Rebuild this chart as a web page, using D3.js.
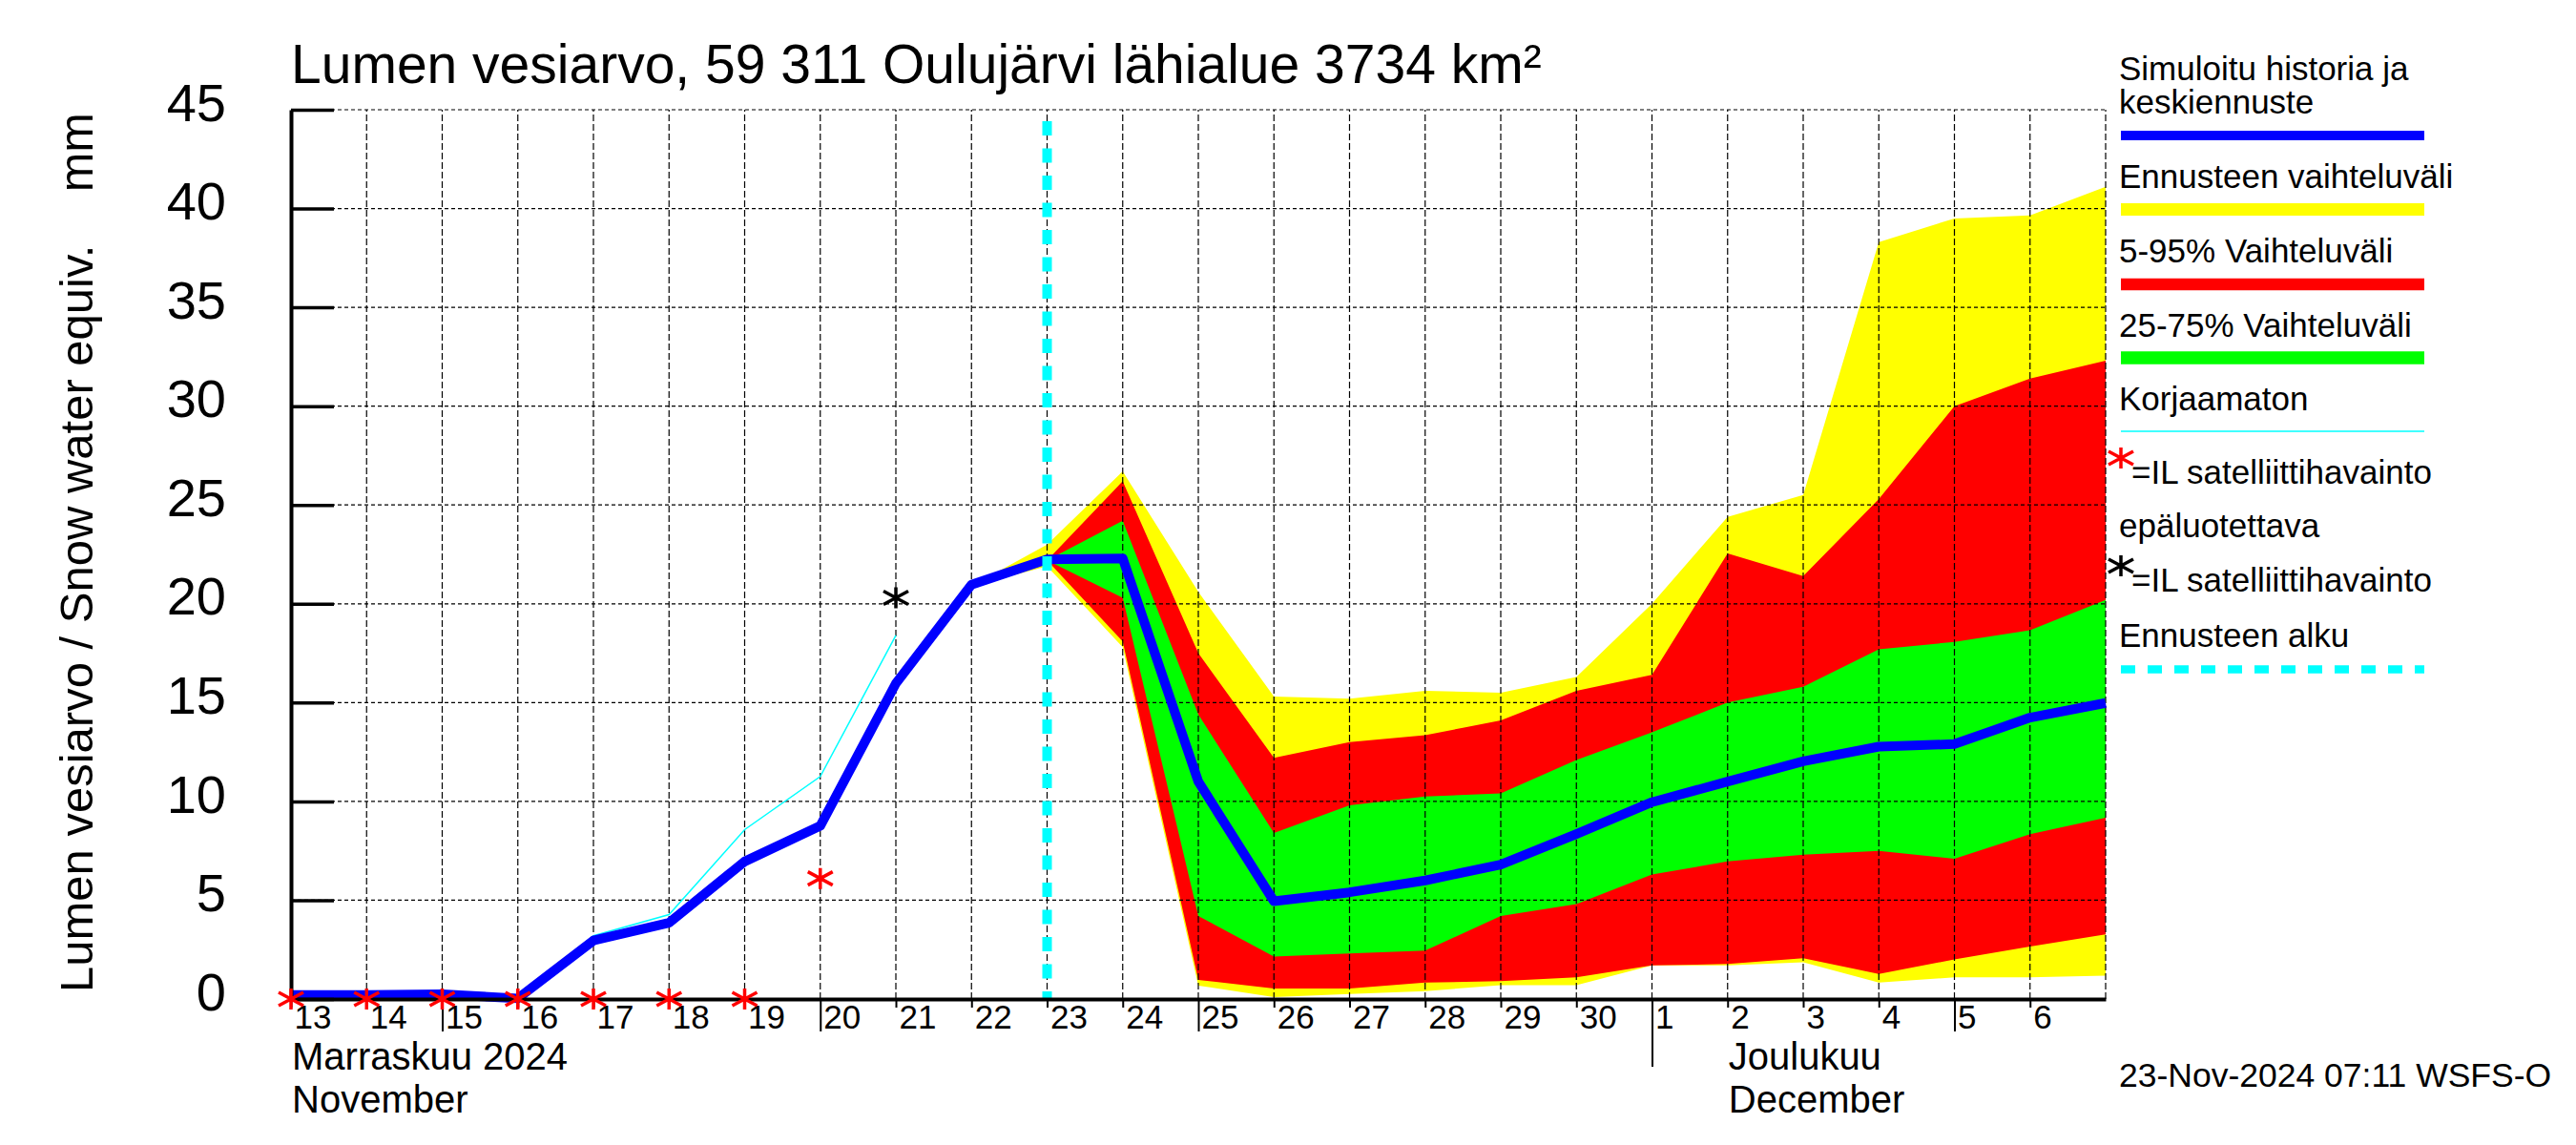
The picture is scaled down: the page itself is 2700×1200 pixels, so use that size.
<!DOCTYPE html>
<html>
<head>
<meta charset="utf-8">
<script src="https://cdn.jsdelivr.net/npm/d3@7"></script>
<style>
  body { margin: 0; background: #fff; }
  svg { display: block; }
  text { font-family: "Liberation Sans", Arial, Helvetica, sans-serif; }
</style>
</head>
<body>
<svg id="chart"></svg>
<script>
// days shown on the x axis (13 Nov .. 7 Dec 2024)
const dates = [
  "2024-11-13", "2024-11-14", "2024-11-15", "2024-11-16", "2024-11-17",
  "2024-11-18", "2024-11-19", "2024-11-20", "2024-11-21", "2024-11-22",
  "2024-11-23", "2024-11-24", "2024-11-25", "2024-11-26", "2024-11-27",
  "2024-11-28", "2024-11-29", "2024-11-30", "2024-12-01", "2024-12-02",
  "2024-12-03", "2024-12-04", "2024-12-05", "2024-12-06", "2024-12-07"
];

// simulated history + mean forecast (blue)
const simulated = [0.2, 0.2, 0.24, 0.03, 2.96, 3.86, 6.96, 8.76, 15.97, 20.97,
  22.25, 22.3, 11.0, 4.95, 5.4, 6.0, 6.8, 8.35, 9.96, 11.0,
  12.03, 12.77, 12.9, 14.24, 14.98];

// uncorrected (cyan thin), 13..21 Nov
const uncorrected = [0.35, 0.35, 0.35, 0.1, 3.2, 4.27, 8.57, 11.26, 18.4];

// forecast range (yellow), 22 Nov .. 7 Dec
const rangeMax = [20.9, 23.0, 26.7, 20.6, 15.3, 15.2, 15.6, 15.5, 16.3, 20.0, 24.4, 25.5, 38.3, 39.5, 39.65, 41.1];
const rangeMin = [20.9, 21.9, 17.8, 0.68, 0.1, 0.25, 0.4, 0.7, 0.7, 1.7, 1.7, 1.86, 0.83, 1.1, 1.1, 1.18];

// 5-95 % (red) and 25-75 % (green), 23 Nov .. 7 Dec
const p95 = [22.2, 26.2, 17.5, 12.2, 13.0, 13.35, 14.1, 15.6, 16.4, 22.55, 21.4, 25.3, 30.0, 31.4, 32.3];
const p05 = [22.2, 18.1, 0.97, 0.53, 0.53, 0.83, 0.9, 1.1, 1.7, 1.77, 2.06, 1.27, 2.0, 2.65, 3.27];
const p75 = [22.2, 24.2, 14.4, 8.4, 9.8, 10.25, 10.4, 12.1, 13.5, 15.0, 15.8, 17.7, 18.07, 18.66, 20.2];
const p25 = [22.2, 20.3, 4.2, 2.15, 2.3, 2.45, 4.2, 4.8, 6.3, 6.96, 7.3, 7.5, 7.1, 8.34, 9.17];

// satellite observations
const obsDates = ["2024-11-13", "2024-11-14", "2024-11-15", "2024-11-16",
  "2024-11-17", "2024-11-18", "2024-11-19", "2024-11-20"];
const obsValues = [0, 0, 0, 0, 0, 0, 0, 6.1];
const badObsDates = ["2024-11-21"];
const badObsValues = [20.3];

const forecastStart = "2024-11-23";
const yTicks = [0, 5, 10, 15, 20, 25, 30, 35, 40, 45];
const longTickDays = [15, 20, 25, 5];
const monthDates = ["2024-11-13", "2024-12-02"];
const monthFi = ["Marraskuu 2024", "Joulukuu"];
const monthEn = ["November", "December"];

const titleText = "Lumen vesiarvo, 59 311 Oulujärvi lähialue 3734 km²";
const stampText = "23-Nov-2024 07:11 WSFS-O";

const parse = d3.utcParse("%Y-%m-%d");
const W = 2700, H = 1200;

const svg = d3.select("#chart").attr("width", W).attr("height", H);

const x = d3.scaleUtc()
  .domain([parse("2024-11-13"), parse("2024-12-07")])
  .range([305, 2207]);
const y = d3.scaleLinear().domain([0, 45]).range([1047, 115]);

function band(ds, lo, hi) {
  return ds.map((d, i) => ({ date: parse(d), lo: lo[i], hi: hi[i] }));
}
let area = d3.area()
  .x(d => x(d.date))
  .y0(d => y(d.lo))
  .y1(d => y(d.hi));

// bands
svg.append("path").datum(band(dates.slice(9), rangeMin, rangeMax))
  .attr("fill", "#ffff00").attr("d", area);
svg.append("path").datum(band(dates.slice(10), p05, p95))
  .attr("fill", "#ff0000").attr("d", area);
svg.append("path").datum(band(dates.slice(10), p25, p75))
  .attr("fill", "#00ff00").attr("d", area);

// grid
let grid = svg.append("g").attr("stroke", "#000").attr("stroke-width", 1.2);
grid.selectAll(".hg")
  .data(yTicks.slice(1))
  .enter().append("line")
  .attr("x1", x.range()[0]).attr("x2", x.range()[1])
  .attr("y1", d => y(d)).attr("y2", d => y(d))
  .attr("stroke-dasharray", "4,3");
grid.selectAll(".vg")
  .data(d3.utcDay.range(parse("2024-11-14"), parse("2024-12-08")))
  .enter().append("line")
  .attr("x1", d => x(d)).attr("x2", d => x(d))
  .attr("y1", y(0)).attr("y2", y(45))
  .attr("stroke-dasharray", "7,3");

// uncorrected
let line = d3.line()
  .x(d => x(d.date))
  .y(d => y(d.v));
svg.append("path")
  .datum(uncorrected.map((v, i) => ({ date: parse(dates[i]), v: v })))
  .attr("fill", "none").attr("stroke", "#00ffff").attr("stroke-width", 1.5)
  .attr("d", line);

// simulated
svg.append("path")
  .datum(simulated.map((v, i) => ({ date: parse(dates[i]), v: v })))
  .attr("fill", "none").attr("stroke", "#0000ff").attr("stroke-width", 10)
  .attr("stroke-linejoin", "round")
  .attr("d", line);

// forecast start
svg.append("line")
  .attr("x1", x(parse(forecastStart))).attr("x2", x(parse(forecastStart)))
  .attr("y1", y(45) + 12).attr("y2", y(0))
  .attr("stroke", "#00ffff").attr("stroke-width", 10)
  .attr("stroke-dasharray", "15,13.5");

// axes
let xAxis = svg.append("g")
  .attr("transform", "translate(0," + y(0) + ")")
  .call(d3.axisBottom(x)
    .tickValues(d3.utcDay.range(parse("2024-11-13"), parse("2024-12-07")))
    .tickFormat(d3.utcFormat("%-d"))
    .tickSize(9)
    .tickSizeOuter(0));
xAxis.select(".domain").attr("stroke-width", 4);
xAxis.selectAll(".tick line")
  .attr("stroke-width", 2)
  .attr("y2", d => d.getUTCDate() === 1 ? 71 : (longTickDays.includes(d.getUTCDate()) ? 34 : 9));
xAxis.selectAll(".tick text")
  .attr("x", 3).attr("y", 31).attr("dy", 0)
  .attr("text-anchor", "start")
  .attr("fill", "#000")
  .style("font-size", "35px")
  .style("font-family", "'Liberation Sans', Arial, sans-serif");

let yAxis = svg.append("g")
  .attr("transform", "translate(" + x.range()[0] + ",0)")
  .call(d3.axisLeft(y).tickValues(yTicks).tickSize(-45).tickPadding(68).tickSizeOuter(0));
yAxis.select(".domain").attr("stroke-width", 4);
yAxis.selectAll(".tick line").attr("stroke-width", 3.5);
yAxis.selectAll(".tick text")
  .attr("dy", "0.2em")
  .attr("fill", "#000")
  .style("font-size", "56px")
  .style("font-family", "'Liberation Sans', Arial, sans-serif");

// observations
const star = "M0,-11V11M-13,-7L13,7M-13,7L13,-7";
svg.selectAll(".obs")
  .data(obsDates.map((d, i) => ({ date: parse(d), v: obsValues[i] })))
  .enter().append("path")
  .attr("d", star)
  .attr("transform", d => "translate(" + x(d.date) + "," + y(d.v) + ")")
  .attr("stroke", "#ff0000").attr("stroke-width", 3.5).attr("fill", "none");
svg.selectAll(".bad")
  .data(badObsDates.map((d, i) => ({ date: parse(d), v: badObsValues[i] })))
  .enter().append("path")
  .attr("d", star)
  .attr("transform", d => "translate(" + x(d.date) + "," + y(d.v) + ")")
  .attr("stroke", "#000").attr("stroke-width", 3.5).attr("fill", "none");

// month labels
monthDates.forEach((d, i) => {
  svg.append("text").attr("x", x(parse(d)) + 1).attr("y", 1121)
    .style("font-size", "40px").text(monthFi[i]);
  svg.append("text").attr("x", x(parse(d)) + 1).attr("y", 1166)
    .style("font-size", "40px").text(monthEn[i]);
});

// title and labels
svg.append("text").attr("x", 305).attr("y", 87)
  .style("font-size", "57px").text(titleText);

svg.append("text")
  .attr("transform", "translate(97,1040) rotate(-90)")
  .style("font-size", "49px")
  .text("Lumen vesiarvo / Snow water equiv.");
svg.append("text")
  .attr("transform", "translate(97,118) rotate(-90)")
  .attr("text-anchor", "end")
  .style("font-size", "50px")
  .text("mm");

svg.append("text").attr("x", 2221).attr("y", 1139)
  .style("font-size", "35.5px").text(stampText);

// legend
let lg = svg.append("g").style("font-size", "35px");
let lx0 = 2223, lx1 = 2541;
lg.append("text").attr("x", lx0 - 2).attr("y", 84).text("Simuloitu historia ja");
lg.append("text").attr("x", lx0 - 2).attr("y", 119).text("keskiennuste");
lg.append("line").attr("x1", lx0).attr("x2", lx1).attr("y1", 142).attr("y2", 142)
  .attr("stroke", "#0000ff").attr("stroke-width", 10);
lg.append("text").attr("x", lx0 - 2).attr("y", 197).text("Ennusteen vaihteluväli");
lg.append("line").attr("x1", lx0).attr("x2", lx1).attr("y1", 219.5).attr("y2", 219.5)
  .attr("stroke", "#ffff00").attr("stroke-width", 13);
lg.append("text").attr("x", lx0 - 2).attr("y", 275).text("5-95% Vaihteluväli");
lg.append("line").attr("x1", lx0).attr("x2", lx1).attr("y1", 298).attr("y2", 298)
  .attr("stroke", "#ff0000").attr("stroke-width", 12.5);
lg.append("text").attr("x", lx0 - 2).attr("y", 353).text("25-75% Vaihteluväli");
lg.append("line").attr("x1", lx0).attr("x2", lx1).attr("y1", 375).attr("y2", 375)
  .attr("stroke", "#00ff00").attr("stroke-width", 13.5);
lg.append("text").attr("x", lx0 - 2).attr("y", 430).text("Korjaamaton");
lg.append("line").attr("x1", lx0).attr("x2", lx1).attr("y1", 452).attr("y2", 452)
  .attr("stroke", "#00ffff").attr("stroke-width", 1.5);
lg.append("path").attr("d", star).attr("transform", "translate(2223,480)")
  .attr("stroke", "#ff0000").attr("stroke-width", 3.5).attr("fill", "none");
lg.append("text").attr("x", 2234).attr("y", 507).text("=IL satelliittihavainto");
lg.append("text").attr("x", lx0 - 2).attr("y", 563).text("epäluotettava");
lg.append("path").attr("d", star).attr("transform", "translate(2223,593)")
  .attr("stroke", "#000").attr("stroke-width", 3.5).attr("fill", "none");
lg.append("text").attr("x", 2234).attr("y", 620).text("=IL satelliittihavainto");
lg.append("text").attr("x", lx0 - 2).attr("y", 678).text("Ennusteen alku");
lg.append("line").attr("x1", lx0).attr("x2", lx1).attr("y1", 701.5).attr("y2", 701.5)
  .attr("stroke", "#00ffff").attr("stroke-width", 8.5).attr("stroke-dasharray", "15,13");
</script>
</body>
</html>
